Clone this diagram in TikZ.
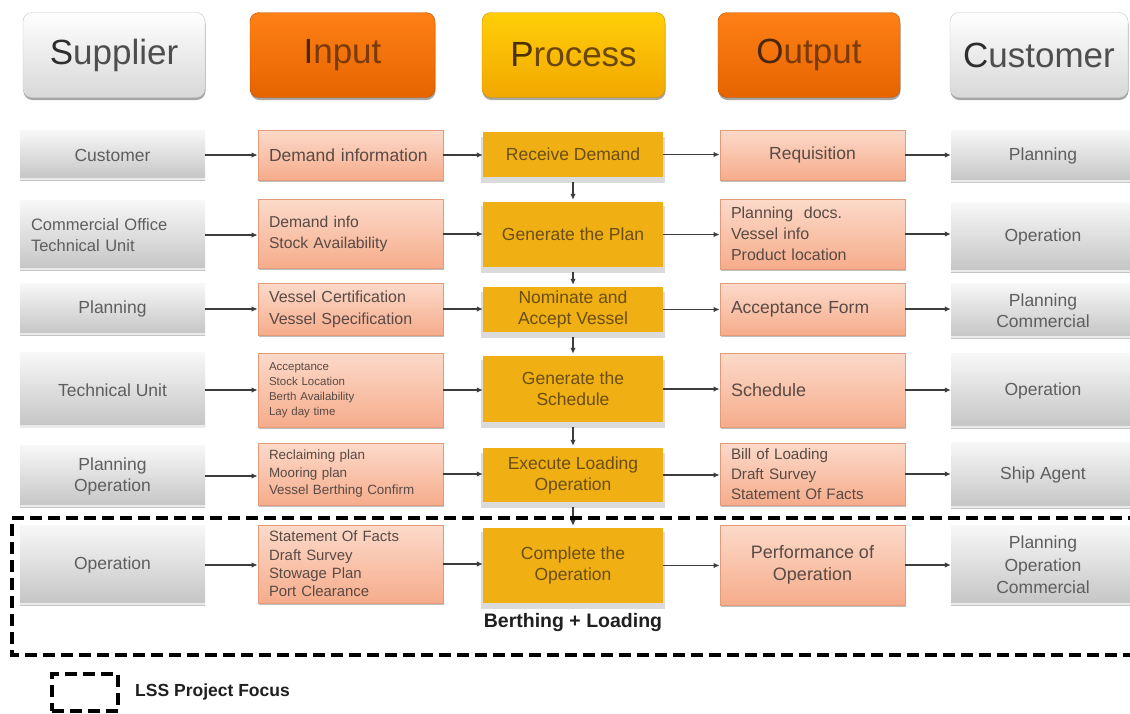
\documentclass[tikz,border=0pt]{standalone}
\usepackage{fontspec}
\setmainfont{Liberation Sans}
\usetikzlibrary{arrows.meta,shadows}

\definecolor{grayTop}{HTML}{F8F8F8}
\definecolor{grayBot}{HTML}{C4C4C4}
\definecolor{grayTxt}{HTML}{5E5E5E}
\definecolor{salTop}{HTML}{FCDACA}
\definecolor{salBot}{HTML}{F6AC8B}
\definecolor{salEdge}{HTML}{E39A7A}
\definecolor{salTxt}{HTML}{584A44}
\definecolor{gold}{HTML}{F0B014}
\definecolor{goldTxt}{HTML}{6A4E12}
\definecolor{connCol}{HTML}{3C3C3C}
\definecolor{hdrWhiteTop}{HTML}{FFFFFF}
\definecolor{hdrWhiteBot}{HTML}{D8D8D8}
\definecolor{hdrOrTop}{HTML}{FF8016}
\definecolor{hdrOrBot}{HTML}{E66400}
\definecolor{hdrYeTop}{HTML}{FFCE08}
\definecolor{hdrYeBot}{HTML}{F2A800}
\definecolor{hdrGrayTxt}{HTML}{4E4E4E}
\definecolor{hdrGrayLead}{HTML}{2E2E2E}
\definecolor{hdrOrTxt}{HTML}{7A3A0A}
\definecolor{hdrOrLead}{HTML}{4A2810}
\definecolor{hdrYeTxt}{HTML}{6A4608}
\definecolor{hdrYeLead}{HTML}{4A3004}

\newcommand\setfs[2]{\fontsize{#1}{#2}\selectfont}

\begin{document}
\begin{tikzpicture}[x=1pt,y=-1pt,
  % column headers
  hdr/.style={rounded corners=9pt, minimum height=85pt, inner sep=0pt,
    font=\setfs{35}{40},
    drop shadow={shadow xshift=0.5pt, shadow yshift=-2.5pt, opacity=0.35, fill=black}},
  hdrgray/.style={hdr, top color=hdrWhiteTop, bottom color=hdrWhiteBot,
    draw=black!22, text=hdrGrayTxt},
  hdrorange/.style={hdr, top color=hdrOrTop, bottom color=hdrOrBot,
    draw=hdrOrBot!85!black, text=hdrOrTxt},
  hdryellow/.style={hdr, top color=hdrYeTop, bottom color=hdrYeBot,
    draw=hdrYeBot!85!black, text=hdrYeTxt},
  % row boxes
  rowbox/.style={rectangle, inner xsep=11pt, inner ysep=2pt, align=center,
    font=\setfs{17.5}{21}},
  srcbox/.style={rowbox, minimum width=185pt, top color=grayTop, bottom color=grayBot,
    text=grayTxt,
    path picture={\fill[grayBot!35!white]
      ([yshift=2.5pt]path picture bounding box.south west)
      rectangle (path picture bounding box.south east);}},
  iobox/.style={rowbox, minimum width=185pt, top color=salTop, bottom color=salBot,
    draw=salEdge, line width=0.8pt, text=salTxt,
    drop shadow={shadow xshift=1pt, shadow yshift=-1.5pt, opacity=0.25, fill=black}},
  procbox/.style={rowbox, minimum width=180pt, fill=gold, text=goldTxt,
    drop shadow={shadow xshift=0pt, shadow yshift=-5pt, shadow scale=1.02,
      opacity=1, fill=black!14}},
  lefttext/.style={text width=163pt, align=left},
  conn/.style={draw=connCol, line width=1.2pt,
    -{Latex[length=6pt,width=5.5pt]}},
  focus/.style={draw=black, line width=4pt, dash pattern=on 12pt off 6pt},
  caption/.style={font=\bfseries\setfs{19.5}{22}, text=black!88, inner sep=0pt}
]
\useasboundingbox[fill=white] (0,0) rectangle (1130,713);

% ---- column headers ----
\node[hdrgray,   minimum width=182pt] (hS) at (114,55)   {\textcolor{hdrGrayLead}{S}upplier};
\node[hdrorange, minimum width=185pt] (hI) at (342.5,55) {\textcolor{hdrOrLead}{I}nput};
\node[hdryellow, minimum width=183pt] (hP) at (573.5,55) {\textcolor{hdrYeLead}{P}rocess};
\node[hdrorange, minimum width=182pt] (hO) at (809,55)   {\textcolor{hdrOrLead}{O}utput};
\node[hdrgray,   minimum width=178pt] (hC) at (1039,55)  {\textcolor{hdrGrayLead}{C}ustomer};

% ---- supplier column ----
\node[srcbox, minimum height=50pt] (s1) at (112.5,155) {Customer};
\node[srcbox, minimum height=70pt, lefttext, font=\setfs{16.5}{21}] (s2) at (112.5,235)
  {Commercial Office\\Technical Unit};
\node[srcbox, minimum height=52pt] (s3) at (112.5,309) {Planning};
\node[srcbox, minimum height=75pt] (s4) at (112.5,390) {Technical Unit};
\node[srcbox, minimum height=62pt] (s5) at (112.5,476) {Planning\\Operation};
\node[srcbox, minimum height=80pt] (s6) at (112.5,565) {Operation};

% ---- input column ----
\node[iobox, minimum height=50pt, lefttext] (i1) at (350.5,155) {Demand information};
\node[iobox, minimum height=69pt, lefttext, font=\setfs{15.7}{21}] (i2) at (350.5,234)
  {Demand info\\Stock Availability};
\node[iobox, minimum height=52pt, lefttext, font=\setfs{16}{22}] (i3) at (350.5,309)
  {Vessel Certification\\Vessel Specification};
\node[iobox, minimum height=74pt, lefttext, font=\setfs{11.5}{15}] (i4) at (350.5,390)
  {Acceptance\\Stock Location\\Berth Availability\\Lay day time};
\node[iobox, minimum height=62pt, lefttext, font=\setfs{13.4}{17.5}] (i5) at (350.5,474)
  {Reclaiming plan\\Mooring plan\\Vessel Berthing Confirm};
\node[iobox, minimum height=78pt, lefttext, font=\setfs{14.9}{18.3}] (i6) at (350.5,564)
  {Statement Of Facts\\Draft Survey\\Stowage Plan\\Port Clearance};

% ---- process column ----
\node[procbox, minimum height=45pt] (p1) at (573,154.5) {Receive Demand};
\node[procbox, minimum height=65pt] (p2) at (573,234.5) {Generate the Plan};
\node[procbox, minimum height=45pt] (p3) at (573,309.5) {Nominate and\\Accept Vessel};
\node[procbox, minimum height=66pt] (p4) at (573,389)   {Generate the\\Schedule};
\node[procbox, minimum height=54pt] (p5) at (573,475)   {Execute Loading\\Operation};
\node[procbox, minimum height=75pt] (p6) at (573,565.5) {Complete the\\Operation};

% ---- output column ----
\node[iobox, minimum height=50pt] (o1) at (812.5,155) {Requisition};
\node[iobox, minimum height=70pt, lefttext, font=\setfs{16}{21}] (o2) at (812.5,234)
  {Planning\ \ docs.\\Vessel info\\Product location};
\node[iobox, minimum height=52pt, lefttext] (o3) at (812.5,309) {Acceptance Form};
\node[iobox, minimum height=74pt, lefttext, font=\setfs{18}{21}] (o4) at (812.5,390) {Schedule};
\node[iobox, minimum height=62pt, lefttext, font=\setfs{15.2}{20}] (o5) at (812.5,474)
  {Bill of Loading\\Draft Survey\\Statement Of Facts};
\node[iobox, minimum height=80pt, font=\setfs{18}{22}] (o6) at (812.5,565)
  {Performance of\\Operation};

% ---- customer column ----
\node[srcbox, minimum width=184pt, minimum height=52pt] (c1) at (1043,156)   {Planning};
\node[srcbox, minimum width=184pt, minimum height=70pt] (c2) at (1043,237)   {Operation};
\node[srcbox, minimum width=184pt, minimum height=55pt] (c3) at (1043,310.5) {Planning\\Commercial};
\node[srcbox, minimum width=184pt, minimum height=75pt] (c4) at (1043,390.5) {Operation};
\node[srcbox, minimum width=184pt, minimum height=66pt] (c5) at (1043,475)   {Ship Agent};
\node[srcbox, minimum width=184pt, minimum height=80pt, font=\setfs{17.5}{22.5}] (c6) at (1043,565)
  {Planning\\Operation\\Commercial};

% ---- horizontal flow: supplier -> input -> process -> output -> customer ----
\foreach \r in {1,...,6}{
  \draw[conn] (s\r.east) -- (s\r.east -| i\r.west);
  \draw[conn] (i\r.east) -- (i\r.east -| p\r.west);
  \draw[conn] (p\r.east) -- (p\r.east -| o\r.west);
  \draw[conn] (o\r.east) -- (o\r.east -| c\r.west);
}

% ---- vertical flow through the process steps ----
\foreach \a/\b in {p1/p2,p2/p3,p3/p4,p4/p5,p5/p6}{
  \draw[conn, shorten <=5pt, shorten >=2pt] (\a.south) -- (\b.north);
}

% ---- project focus frame ----
\coordinate (fTR) at (1140,518);
\coordinate (fTL) at (12,518);
\coordinate (fBL) at (12,655);
\coordinate (fBR) at (1140,655);
\draw[focus] (fTR) -- (fTL) -- (fBL) -- (fBR);

\node[caption] (berth) at (573,622) {Berthing + Loading};

% ---- legend ----
\node[focus, minimum width=66pt, minimum height=37pt, inner sep=0pt] (legbox) at (85,692.5) {};
\node[caption, anchor=west, font=\bfseries\setfs{17.5}{21}] (legtxt) at (135,692) {LSS Project Focus};
\end{tikzpicture}
\end{document}
